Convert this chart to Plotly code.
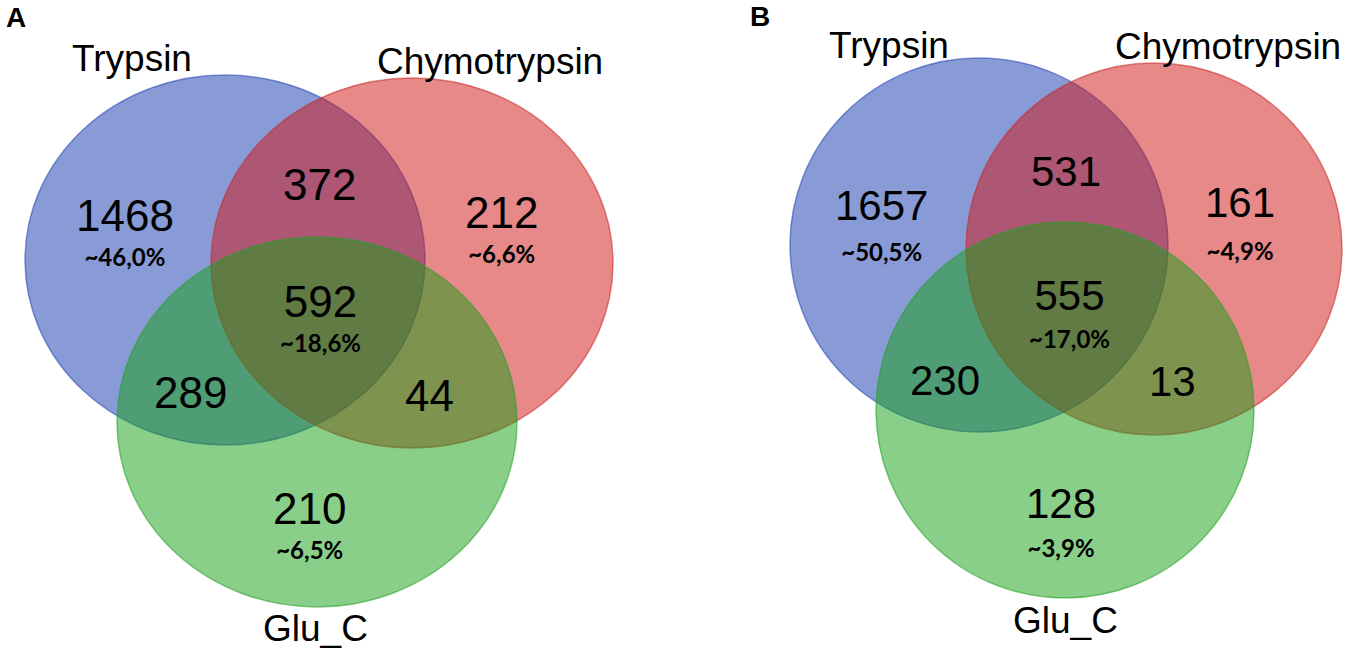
import plotly.graph_objects as go

# ---------------- data ----------------
set_names = ["Trypsin", "Chymotrypsin", "Glu_C"]
# region order: T only, C only, G only, T&C, T&G, C&G, T&C&G
region_keys = ["T", "C", "G", "TC", "TG", "CG", "TCG"]
counts_A = [1468, 212, 210, 372, 289, 44, 592]
pct_A = ["~46,0%", "~6,6%", "~6,5%", "", "", "", "~18,6%"]
counts_B = [1657, 161, 128, 531, 230, 13, 555]
pct_B = ["~50,5%", "~4,9%", "~3,9%", "", "", "", "~17,0%"]
panel_letters = ["A", "B"]

# ---------------- layout (pixel geometry) ----------------
W, H = 1353, 659
FILL = ["rgba(20,55,175,0.5)", "rgba(210,20,20,0.5)", "rgba(20,160,20,0.5)"]
EDGE = ["rgba(40,70,180,0.55)", "rgba(200,40,40,0.55)", "rgba(40,160,40,0.55)"]

panels = [
    dict(
        letter=(16, 17),
        ellipses=[(225, 260, 200, 185), (412, 263, 201, 185), (317, 422, 200, 185)],
        name_pos=[(132, 58), (490, 61), (315, 628)],
        num_pos=[(124, 219), (502, 217), (309, 512), (319, 184), (190, 392), (429, 395), (318, 306)],
        pct_pos=[(126, 253), (501, 250), (309, 547), None, None, None, (322, 339)],
        num_size=44, min_gap=34.5,
        counts=counts_A, pcts=pct_A,
    ),
    dict(
        letter=(760, 16),
        ellipses=[(979, 245, 189, 187), (1154, 249, 188, 186), (1065, 410, 189, 188)],
        name_pos=[(889, 45), (1228, 46), (1065, 620)],
        num_pos=[(882, 205), (1239, 202), (1061, 503), (1066, 171), (945, 380), (1172, 381), (1068, 295)],
        pct_pos=[(880, 252), (1241, 251), (1061, 548), None, None, None, (1070, 339)],
        num_size=42, min_gap=34.5,
        counts=counts_B, pcts=pct_B,
    ),
]

SANS = "Liberation Sans, Arial, sans-serif"
PCT_SIZE = 24
# font metrics (fractions of em)
SANS_ASC, SANS_DIGIT = 0.905, 0.716
LATO_DESC, LATO_DIGIT = 0.213, 0.72
LINE_SPACING = 1.3  # plotly's multi-line spacing

fig = go.Figure()
fig.add_trace(go.Scatter(x=[0, W], y=[0, H], mode="markers",
                         marker=dict(opacity=0), hoverinfo="skip", showlegend=False))

shapes = []
annotations = []

for p, letter in zip(panels, panel_letters):
    for (cx, cy, rx, ry), fc, ec in zip(p["ellipses"], FILL, EDGE):
        shapes.append(dict(type="circle", xref="x", yref="y",
                           x0=cx - rx, x1=cx + rx, y0=cy - ry, y1=cy + ry,
                           fillcolor=fc, line=dict(color=ec, width=1.5), layer="below"))
    lx, ly = p["letter"]
    annotations.append(dict(x=lx, y=ly, text="<b>%s</b>" % letter, showarrow=False,
                            xanchor="center", yanchor="middle",
                            font=dict(family=SANS, size=28, color="black")))
    for name, (x, y) in zip(set_names, p["name_pos"]):
        annotations.append(dict(x=x, y=y, text=name, showarrow=False,
                                xanchor="center", yanchor="middle",
                                font=dict(family=SANS, size=37, color="black")))
    ns = p["num_size"]
    for c, t, (x, y), pos in zip(p["counts"], p["pcts"], p["num_pos"], p["pct_pos"]):
        if t and pos:
            # number and percentage as two lines of one text block
            b1 = y + SANS_DIGIT / 2 * ns
            b2 = pos[1] + LATO_DIGIT / 2 * PCT_SIZE
            extra = max(0.0, p["min_gap"] - (b2 - b1))
            b1 -= extra / 2
            b2 += extra / 2
            base = (b2 - b1) / LINE_SPACING
            mid = ((b1 - SANS_ASC * ns) + (b2 + LATO_DESC * PCT_SIZE)) / 2
            txt = ("<span style='font-size:%dpx'>%d</span><br>"
                   "<span style='font-family:Lato;font-size:%dpx'><b>%s</b></span>"
                   % (ns, c, PCT_SIZE, t))
            annotations.append(dict(x=(x + pos[0]) / 2, y=mid, text=txt, showarrow=False,
                                    xanchor="center", yanchor="middle", align="center",
                                    font=dict(family=SANS, size=base, color="black")))
        else:
            annotations.append(dict(x=x, y=y, text=str(c), showarrow=False,
                                    xanchor="center", yanchor="middle",
                                    font=dict(family=SANS, size=ns, color="black")))

fig.update_layout(
    width=W, height=H,
    margin=dict(l=0, r=0, t=0, b=0),
    paper_bgcolor="white", plot_bgcolor="white",
    xaxis=dict(range=[0, W], visible=False, fixedrange=True),
    yaxis=dict(range=[H, 0], visible=False, fixedrange=True),
    shapes=shapes, annotations=annotations,
    showlegend=False,
)

fig.write_html("out.html", config={"displayModeBar": False},
               post_script="document.body.style.margin='0';document.body.style.overflow='hidden';")
